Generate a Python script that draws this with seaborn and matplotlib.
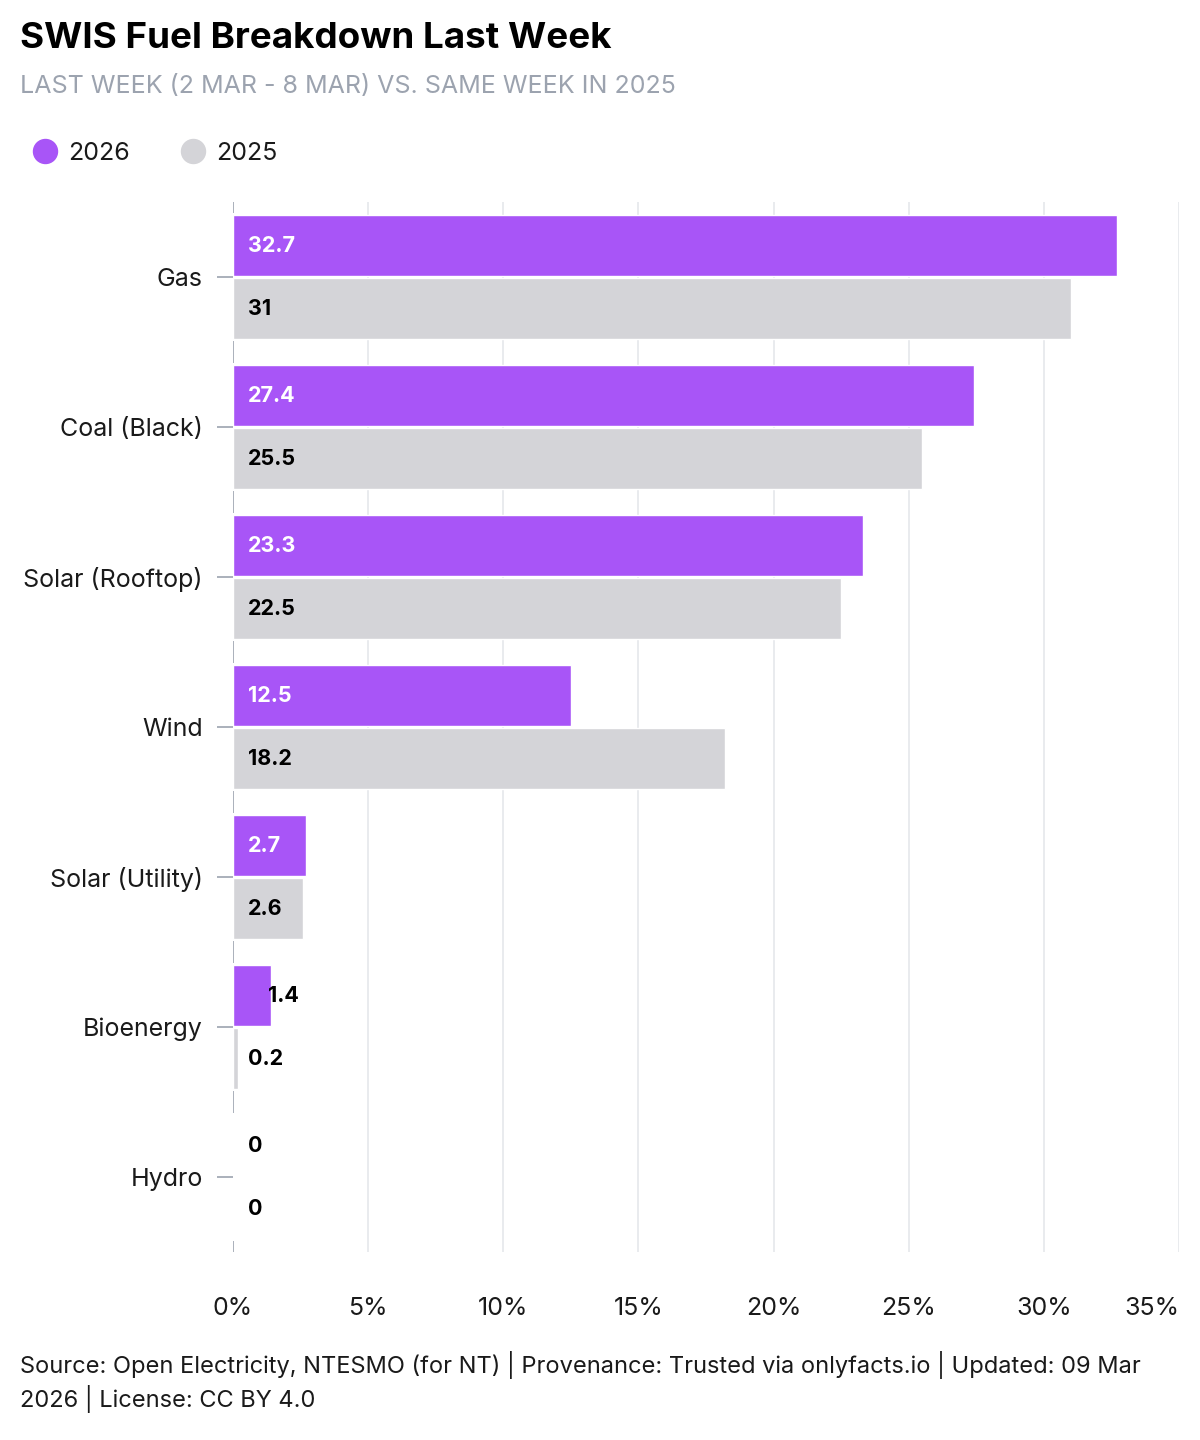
import pandas as pd
import numpy as np
import matplotlib
matplotlib.use("Agg")
import matplotlib.pyplot as plt
from matplotlib.lines import Line2D
import seaborn as sns

# data
fuels = ["Gas", "Coal (Black)", "Solar (Rooftop)", "Wind", "Solar (Utility)", "Bioenergy", "Hydro"]
share_2026 = [32.7, 27.4, 23.3, 12.5, 2.7, 1.4, 0]
share_2025 = [31, 25.5, 22.5, 18.2, 2.6, 0.2, 0]
years = ["2026", "2025"]
year_colors = ["#a855f7", "#d4d4d8"]
x_ticks = [0, 5, 10, 15, 20, 25, 30, 35]

title = "SWIS Fuel Breakdown Last Week"
subtitle = "LAST WEEK (2 MAR - 8 MAR) VS. SAME WEEK IN 2025"
footer = ("Source: Open Electricity, NTESMO (for NT) | Provenance: Trusted via onlyfacts.io | Updated: 09 Mar\n"
          "2026 | License: CC BY 4.0")

TEXT = "#1a1a1a"
MUTED = "#9ca3af"
GRID = "#e5e7eb"
AXIS = "#9ca3af"
DPI = 100
AX_LEFT, AX_RIGHT = 233, 1179


def px(n):
    # pixels -> points at our dpi
    return n * 72 / DPI


def build_frame():
    rows = []
    for year, vals in zip(years, [share_2026, share_2025]):
        for fuel, v in zip(fuels, vals):
            rows.append({"fuel": fuel, "year": year, "share": v})
    return pd.DataFrame(rows)


def main():
    sns.set_theme(style="white")
    plt.rcParams["font.family"] = ["Inter", "DejaVu Sans"]

    df = build_frame()
    fig = plt.figure(figsize=(12, 14.4), dpi=DPI)
    ax = fig.add_axes([AX_LEFT / 1200, 1 - 1252 / 1440, (AX_RIGHT - AX_LEFT) / 1200, (1252 - 202) / 1440])

    sns.barplot(data=df, y="fuel", x="share", hue="year", hue_order=years, order=fuels,
                palette=year_colors, orient="h", width=0.84, gap=0.03, saturation=1,
                legend=False, ax=ax, zorder=2)

    ax.set_xlim(0, 35)
    ax.set_ylim(len(fuels) - 0.5, -0.5)
    ax.set_xticks(x_ticks)
    ax.set_xticklabels([f"{t}%" for t in x_ticks])
    ax.get_xticklabels()[-1].set_horizontalalignment("right")
    for t in x_ticks[1:]:
        ax.axvline(t, color=GRID, lw=1.2, zorder=0)

    # little axis pieces at category boundaries
    for b in np.arange(-0.5, len(fuels), 1.0):
        ax.vlines(0, b - 0.075, b + 0.075, color=AXIS, lw=1.2, zorder=1, clip_on=True)

    for s in ax.spines.values():
        s.set_visible(False)
    ax.set_xlabel("")
    ax.set_ylabel("")
    ax.tick_params(axis="x", length=0, pad=px(45), labelsize=18, labelcolor=TEXT)
    ax.tick_params(axis="y", length=px(16), width=1.2, color=AXIS, pad=px(14),
                   labelsize=18, labelcolor=TEXT, left=True)

    # value labels
    scale = (AX_RIGHT - AX_LEFT) / 35.0  # px per percent
    pad = 15
    for container, year in zip(ax.containers, years):
        for bar, val in zip(container, df[df["year"] == year]["share"]):
            y = bar.get_y() + bar.get_height() / 2
            width_px = val * scale
            inside = width_px > 60
            if inside:
                off = pad
                color = "white" if year == "2026" else "black"
            else:
                off = max(pad, width_px - 3)
                color = "black"
            label = f"{val:g}"
            ax.annotate(label, xy=(0, y), xytext=(px(off), 0), textcoords="offset points",
                        ha="left", va="center", fontsize=15.5, fontweight="bold",
                        color=color, zorder=3)

    fig.text(20 / 1200, 1 - 38 / 1440, title, fontsize=26.5, fontweight="bold",
             color="black", va="center", ha="left")
    fig.text(20 / 1200, 1 - 86 / 1440, subtitle, fontsize=18, color=MUTED,
             va="center", ha="left")

    handles = [Line2D([], [], marker="o", linestyle="", markersize=px(24),
                      markerfacecolor=c, markeredgecolor=c) for c in year_colors]
    fig.legend(handles, years, loc="center left", bbox_to_anchor=(32 / 1200, 1 - 153 / 1440),
               ncol=2, frameon=False, fontsize=18, handletextpad=0.45, columnspacing=2.0,
               borderpad=0, borderaxespad=0, labelcolor=TEXT, handlelength=1.0)

    fig.text(20 / 1200, 1 - 1382 / 1440, footer, fontsize=17, color=TEXT,
             va="center", ha="left", linespacing=1.3)

    fig.savefig("out.png", dpi=DPI)
    plt.close(fig)


if __name__ == "__main__":
    main()
